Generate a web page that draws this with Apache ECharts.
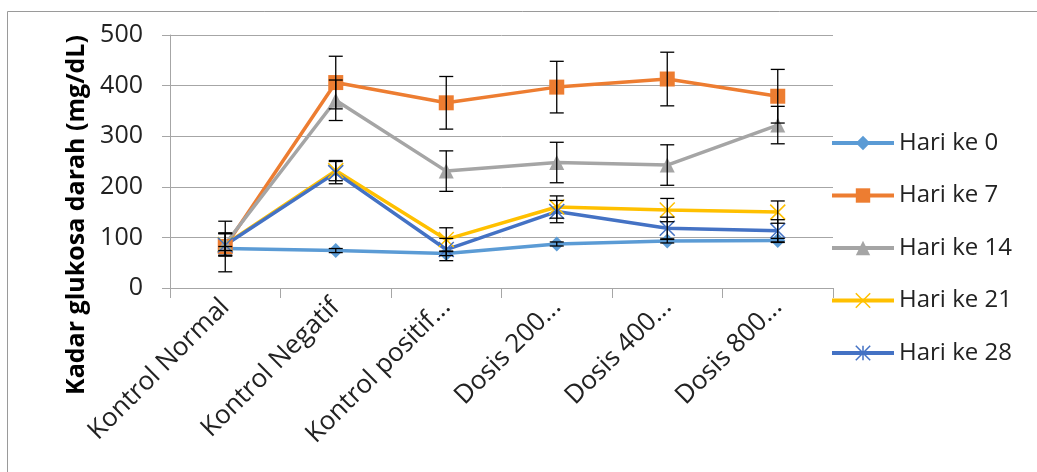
<!DOCTYPE html>
<html><head><meta charset="utf-8">
<script src="https://cdn.jsdelivr.net/npm/echarts@6/dist/echarts.min.js"></script>
<style>html,body{margin:0;padding:0;background:#fff}#c{width:1037px;height:472px}</style>
</head><body><div id="c"></div>
<script>
const categories = ['Kontrol Normal','Kontrol Negatif','Kontrol positif...','Dosis 200...','Dosis 400...','Dosis 800...'];
const seriesNames = ['Hari ke 0','Hari ke 7','Hari ke 14','Hari ke 21','Hari ke 28'];
const hari0 = [78, 74, 68, 87, 93, 94];
const hari7 = [82, 406, 366, 397, 413, 379];
const hari14 = [87, 371, 231, 248, 243, 322];
const hari21 = [86, 232, 96, 160, 154, 150];
const hari28 = [85, 228, 76, 151, 118, 113];
const err0 = [4, 4, 4, 4, 4, 4];
const err7 = [50, 52, 52, 51, 53, 53];
const err14 = [22, 40, 40, 40, 40, 37];
const err21 = [22, 20, 23, 22, 23, 22];
const err28 = [22, 22, 22, 22, 22, 22];
const yTicks = [0, 100, 200, 300, 400, 500];
const yName = 'Kadar glukosa darah (mg/dL)';

const colors = ['#5B9BD5','#ED7D31','#A5A5A5','#FFC000','#4472C4'];
const values = [hari0, hari7, hari14, hari21, hari28];
const errs = [err0, err7, err14, err21, err28];
const symbols = ['diamond','rect','triangle','path://M0,0L10,10M10,0L0,10','path://M0,0L10,10M10,0L0,10M5,0L5,10'];
const sizes = [15, 15, 15, 15, 15];

const font = "'Open Sans', 'Noto Sans', sans-serif";
const chart = echarts.init(document.getElementById('c'));
const series = [];
values.forEach((v, i) => {
  const isStroke = i >= 3;
  series.push({
    name: seriesNames[i], type: 'line', data: v, z: 3,
    symbol: symbols[i], symbolSize: sizes[i], showSymbol: true,
    lineStyle: {color: colors[i], width: 3.5},
    itemStyle: isStroke ? {color: 'rgba(0,0,0,0)', borderColor: colors[i], borderWidth: 1.5, opacity: 1}
                        : {color: colors[i], borderWidth: 0},
    emphasis: {disabled: true}
  });
});
values.forEach((v, i) => {
  series.push({
    type: 'custom', z: 4, silent: true,
    data: v.map((y, j) => [j, y - errs[i][j], y + errs[i][j]]),
    renderItem: function (params, api) {
      const lo = api.coord([api.value(0), api.value(1)]);
      const hi = api.coord([api.value(0), api.value(2)]);
      const w = 7;
      const st = {stroke: '#000', lineWidth: 1.3};
      return {type: 'group', children: [
        {type: 'line', shape: {x1: lo[0], y1: lo[1], x2: hi[0], y2: hi[1]}, style: st},
        {type: 'line', shape: {x1: lo[0]-w, y1: lo[1], x2: lo[0]+w, y2: lo[1]}, style: st},
        {type: 'line', shape: {x1: hi[0]-w, y1: hi[1], x2: hi[0]+w, y2: hi[1]}, style: st}
      ]};
    }
  });
});

chart.setOption({
  animation: false,
  backgroundColor: '#fff',
  grid: {left: 170, right: 204, top: 35, bottom: 184, containLabel: false},
  legend: {
    orient: 'vertical', left: 830, top: 129, padding: 0, itemGap: 24.5, itemWidth: 62, itemHeight: 18,
    data: seriesNames.map((n, i) => ({name: n,
      lineStyle: {width: 4, color: colors[i]},
      itemStyle: i >= 3 ? {color: 'rgba(0,0,0,0)', borderColor: colors[i], borderWidth: 1.5}
                        : {color: colors[i], borderWidth: 0}})),
    textStyle: {fontFamily: font, fontSize: 24, lineHeight: 28, color: '#222'},
    selectedMode: false
  },
  xAxis: {
    type: 'category', data: categories, boundaryGap: true,
    axisLine: {lineStyle: {color: '#a6a6a6', width: 1}},
    axisTick: {show: true, length: 10, lineStyle: {color: '#a6a6a6'}},
    axisLabel: {rotate: 45, fontFamily: font, fontSize: 26, color: '#222', margin: 15, interval: 0}
  },
  yAxis: {
    type: 'value', min: yTicks[0], max: yTicks[yTicks.length-1], interval: 100,
    axisLine: {show: true, lineStyle: {color: '#a6a6a6', width: 1}},
    axisTick: {show: true, length: 8, lineStyle: {color: '#a6a6a6'}},
    axisLabel: {fontFamily: font, fontSize: 25, color: '#222', margin: 27},
    splitLine: {lineStyle: {color: '#a6a6a6', width: 1}}
  },
  graphic: [
    {type: 'line', shape: {x1: 7.5, y1: 11.5, x2: 1037, y2: 11.5}, style: {stroke: '#9a9a9a', lineWidth: 1}},
    {type: 'line', shape: {x1: 7.5, y1: 11.5, x2: 7.5, y2: 472}, style: {stroke: '#9a9a9a', lineWidth: 1}},
    {type: 'text', x: 77, y: 215, rotation: Math.PI / 2,
     style: {text: yName, fontFamily: font, fontSize: 25, fontWeight: 'bold', fill: '#000',
             align: 'center', verticalAlign: 'middle'}}
  ],
  series: series
});
</script></body></html>
